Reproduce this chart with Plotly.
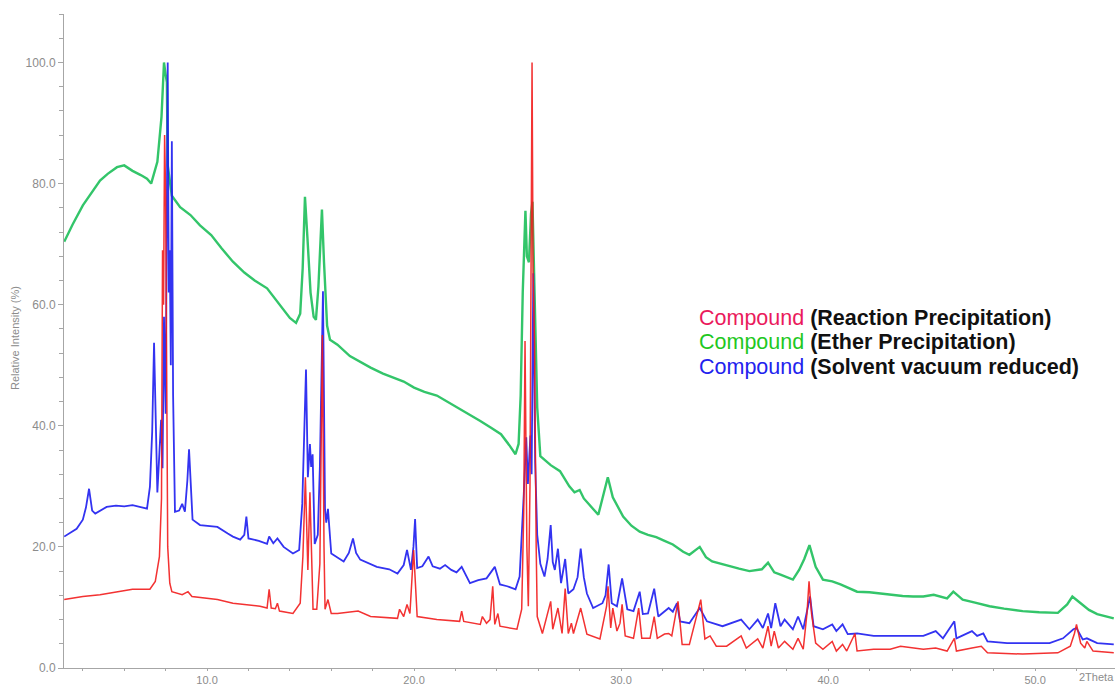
import plotly.graph_objects as go

# (2theta, relative intensity %)
green_pts = [
    (3.1,70.4),(3.5,73.2),(4.0,76.4),(4.5,78.8),(4.83,80.5),(5.2,81.6),(5.65,82.7),(6.0,83),(6.4,82.1),
    (6.8,81.4),(7.1,80.8),(7.3,80),(7.6,83.6),(7.8,91),(7.92,100),(8.0,98),(8.06,96.7),(8.1,83),(8.3,78),
    (8.7,76.1),(9.2,74.8),(9.66,73.1),(10.2,71.5),(10.7,69.3),(11.25,67.1),(11.8,65.3),(12.3,64),(12.9,62.7),
    (13.4,60.5),(14.0,57.8),(14.3,57),(14.5,58.5),(14.62,66),(14.73,77.8),(14.85,71),(15.0,62),(15.15,58),
    (15.26,57.5),(15.38,63),(15.48,72),(15.55,75.7),(15.65,67),(15.8,56.5),(15.94,54.2),(16.3,53.4),
    (16.9,51.5),(17.4,50.5),(17.9,49.6),(18.5,48.6),(19.0,48),(19.5,47.3),(20.0,46.3),(20.5,45.6),(21.1,45),
    (21.7,43.8),(22.2,42.9),(22.7,41.9),(23.2,40.8),(23.7,39.7),(24.2,38.6),(24.6,36.8),(24.9,35.3),
    (25.05,37),(25.15,45),(25.25,62),(25.38,75.5),(25.45,68),(25.55,67),(25.65,75),(25.72,77),(25.82,62),
    (25.95,43),(26.1,35),(26.6,33.5),(27.05,32.5),(27.5,30),(27.75,29),(28.0,29.4),(28.2,28),(28.5,26.9),
    (28.9,25.3),(29.1,28),(29.36,31.5),(29.6,28.2),(30.1,25),(30.5,23.5),(30.9,22.5),(31.3,22),(31.7,21.6),
    (32.1,21),(32.5,20.4),(33.0,19.2),(33.3,18.7),(33.8,20),(34.1,18.3),(34.4,17.6),(35.0,17),(35.7,16.4),
    (36.2,16),(36.5,16.1),(36.8,16.3),(37.1,17.4),(37.4,15.8),(37.7,15.4),(38.3,14.6),(38.6,16.2),
    (38.85,18),(39.1,20.3),(39.4,16.7),(39.75,14.6),(40.2,14.3),(40.6,13.8),(41.0,13.2),(41.4,12.6),
    (42.0,12.5),(42.5,12.3),(43.0,12.1),(43.6,11.9),(44.1,11.8),(44.6,11.8),(45.1,12.1),(45.75,11.5),
    (46.05,12.6),(46.5,11.3),(47.1,10.8),(47.8,10.2),(48.5,9.8),(49.4,9.4),(50.2,9.2),(51.1,9.1),
    (51.55,10.5),(51.8,11.8),(52.2,10.7),(52.6,9.6),(53.0,8.9),(53.4,8.5),(53.8,8.2),
]

blue_pts = [
    (3.1,21.7),(3.4,22.4),(3.7,23),(4.0,24.5),(4.15,26.5),(4.3,29.6),(4.45,26),(4.6,25.5),(5.15,26.6),
    (5.6,26.8),(6.0,26.7),(6.4,26.9),(6.8,26.5),(7.1,26.3),(7.24,29.9),(7.35,39),(7.44,53.7),(7.52,39),
    (7.6,29),(7.7,35.6),(7.78,41),(7.85,33),(7.92,58),(8.0,42),(8.1,100),(8.15,62),(8.2,69),(8.25,50),
    (8.3,87),(8.36,45),(8.45,25.8),(8.65,26),(8.8,27.1),(8.93,25.8),(9.05,31),(9.13,36.1),(9.22,29),
    (9.3,24.5),(9.66,23.6),(10.0,23.5),(10.5,23.3),(11.0,22.2),(11.25,21.7),(11.6,21.2),(11.8,22),
    (11.9,25),(12.0,21.4),(12.5,21),(12.9,20.5),(13.0,21.7),(13.2,20.6),(13.4,21.4),(13.7,20),(14.15,18.9),
    (14.45,19.5),(14.6,27.1),(14.7,38.9),(14.78,49.3),(14.87,31.5),(14.97,37),(15.03,33.2),(15.1,35.3),
    (15.2,20.5),(15.35,22),(15.45,33.2),(15.6,62.2),(15.7,26.1),(15.76,24),(15.84,26.3),(16.0,18.9),
    (16.6,17.6),(16.85,19),(17.05,21.4),(17.2,19),(17.4,17.9),(18.2,16.7),(18.8,16.3),(19.2,15.6),
    (19.5,17),(19.66,19.5),(19.85,16.2),(19.97,20),(20.05,24.6),(20.15,16.5),(20.4,16.8),(20.7,18.4),
    (20.9,16.8),(21.25,16.4),(21.5,17),(21.8,16.2),(22.05,15.8),(22.3,16.7),(22.7,14),(23.1,14.5),
    (23.5,14.8),(23.9,16.7),(24.15,13.8),(24.5,13.5),(24.9,13),(25.1,15.1),(25.3,28.7),(25.42,38.1),
    (25.5,30.4),(25.62,38.4),(25.68,32),(25.76,65.2),(25.85,34),(25.95,22),(26.1,17.2),(26.3,15.1),
    (26.45,18),(26.6,23.6),(26.7,17.5),(26.8,16.2),(26.95,19.7),(27.1,14),(27.3,18),(27.45,12.3),
    (27.7,13),(27.9,15),(28.05,19.7),(28.2,15),(28.35,12.3),(28.65,9.9),(29.1,10.7),(29.25,12),(29.4,17.1),
    (29.55,10.7),(29.8,10.2),(30.05,14.8),(30.3,9.7),(30.6,9.4),(30.9,12.6),(31.05,8.9),(31.3,9),
    (31.6,13.1),(31.8,8.5),(32.3,9.9),(32.5,9.3),(32.7,10.7),(32.85,7.7),(33.3,7.4),(33.8,9.9),(34.15,7.7),
    (34.9,6.9),(35.8,8),(36.2,6.4),(36.6,8),(36.85,6.6),(37.1,9),(37.25,6.6),(37.45,10.7),(37.7,6.9),
    (37.9,8),(38.3,6.4),(38.55,8.5),(38.8,6.4),(39.05,10.2),(39.13,11.8),(39.3,6.9),(39.75,6.4),(40.2,7.2),
    (40.4,6.1),(40.7,7.2),(40.95,5.6),(41.4,5.7),(42.2,5.3),(43.0,5.3),(43.8,5.3),(44.6,5.3),(45.2,6.1),
    (45.55,4.9),(46.1,7.7),(46.2,4.9),(46.95,6.1),(47.2,5.3),(47.5,5.7),(47.7,4.4),(48.65,4.1),(49.4,4.1),
    (50.7,4.1),(51.35,4.9),(51.85,6.4),(52.0,6.6),(52.3,4.7),(52.5,4.9),(53.0,4.1),(53.8,3.9),
]

red_pts = [
    (3.1,11.3),(4.0,11.8),(4.83,12.1),(5.6,12.6),(6.4,13),(7.0,13),(7.24,13),(7.5,14.3),(7.7,18.4),
    (7.8,28),(7.85,69),(7.9,60),(7.95,88),(8.0,78),(8.05,55),(8.1,20),(8.2,14),(8.3,12.6),(8.8,12.1),
    (9.08,12.6),(9.27,11.8),(10.5,11.3),(11.25,10.7),(12.56,10.2),(12.9,9.9),(13.0,13),(13.1,9.9),
    (13.3,9.8),(13.4,10.7),(13.5,9.4),(14.15,9),(14.5,10.7),(14.63,18.4),(14.75,31.5),(14.87,16.2),
    (14.97,29),(15.12,9.7),(15.3,9.7),(15.45,17.2),(15.5,29.9),(15.57,55),(15.65,20),(15.7,9.7),
    (15.84,11.3),(16.0,9),(16.3,9),(17.3,9.4),(17.9,8.5),(19.2,8.2),(19.3,9.7),(19.5,8.5),(19.66,10.5),
    (19.8,9),(19.98,19.5),(20.15,8.5),(21.1,8),(22.2,7.7),(22.3,9.4),(22.4,7.7),(23.2,7.2),(23.3,8.5),
    (23.5,7.4),(23.67,8),(23.8,13.5),(23.9,7.2),(24.05,9),(24.15,6.9),(24.97,6.4),(25.2,9.7),(25.3,26),
    (25.36,54),(25.45,20),(25.52,10.2),(25.6,30),(25.66,90),(25.7,100),(25.75,65),(25.82,53.6),(25.9,20),
    (25.95,8.5),(26.2,5.7),(26.4,8.5),(26.6,11),(26.7,6.4),(26.95,9.9),(27.15,5.7),(27.3,13.1),(27.45,5.7),
    (27.6,7.4),(27.7,5.7),(28.05,9.9),(28.35,5.6),(28.98,4.8),(29.3,10.2),(29.37,13.5),(29.5,6.6),
    (29.6,9.9),(29.8,6.1),(29.95,7.4),(30.05,10.5),(30.2,5.3),(30.6,4.9),(30.85,9.9),(31.0,4.9),(31.4,4.9),
    (31.6,8.5),(31.75,4.9),(32.1,5.6),(32.3,5.7),(32.45,5.3),(32.75,11),(32.95,3.9),(33.3,3.9),(33.85,11.3),
    (34.05,4.8),(34.3,5.3),(34.6,3.6),(35.1,3.6),(35.8,5.3),(36.05,3.3),(36.6,4.8),(36.85,3.3),(37.1,6.9),
    (37.25,3.6),(37.4,6.1),(37.6,3.3),(37.9,4.4),(38.3,3.1),(38.55,4.9),(38.8,3.1),(38.98,9),(39.08,14.3),
    (39.2,9),(39.4,4.1),(39.75,3.1),(40.2,4.4),(40.4,2.8),(40.7,3.9),(40.9,2.8),(41.3,5.7),(41.4,2.8),
    (42.2,3.1),(43.0,3.1),(43.5,3.6),(44.6,3.1),(45.2,3.3),(45.75,2.8),(46.1,4.9),(46.2,2.8),(46.95,3.3),
    (47.4,3.6),(47.7,2.5),(49.4,2.3),(51.1,2.5),(51.7,3.6),(51.9,5.7),(52.0,7.2),(52.2,4.1),(52.4,3.3),
    (52.5,4.4),(52.8,2.8),(53.8,2.5),
]

x_range = [3.09, 53.86]
y_range = [0, 108]

legend_labels = ["(Reaction Precipitation)", "(Ether Precipitation)", "(Solvent vacuum reduced)"]
legend_colors = ["#ea1a5c", "#1fc81f", "#2222ee"]

fig = go.Figure()
for pts, col, w in [(green_pts, "#1ebf5a", 2.4), (blue_pts, "#1d1df0", 1.8), (red_pts, "#f21c1c", 1.5)]:
    fig.add_trace(go.Scatter(x=[p[0] for p in pts], y=[p[1] for p in pts], mode="lines",
                             line=dict(color=col, width=w), opacity=0.9, showlegend=False,
                             hoverinfo="skip"))

axis_col = "#a6a6a6"
fig.update_layout(
    width=1115, height=688,
    margin=dict(l=64, r=0, t=14, b=20, autoexpand=False),
    paper_bgcolor="white", plot_bgcolor="white",
    font=dict(family="Arial, Liberation Sans, sans-serif"),
    xaxis=dict(range=x_range, showgrid=False, zeroline=False, showline=True, linecolor=axis_col,
               ticks="outside", ticklen=2, tickcolor=axis_col, tick0=0, dtick=10, tickformat=".1f",
               tickfont=dict(size=11, color="#8c8c8c"), automargin=False, ticklabelstandoff=0,
               minor=dict(ticks="outside", ticklen=2, dtick=2, tickcolor=axis_col)),
    yaxis=dict(range=y_range, showgrid=False, zeroline=False, showline=True, linecolor=axis_col,
               ticks="outside", ticklen=5, tickcolor=axis_col, tick0=0, dtick=20, tickformat=".1f",
               tickfont=dict(size=12, color="#8c8c8c"), automargin=False,
               minor=dict(ticks="outside", ticklen=4, dtick=4, tickcolor=axis_col)),
)

fig.add_annotation(text="Relative Intensity (%)", xref="paper", yref="paper", x=-0.0466, y=0.5046,
                   textangle=-90, showarrow=False, font=dict(size=11, color="#8c8c8c"),
                   xanchor="center", yanchor="middle")
fig.add_annotation(text="2Theta", xref="x", yref="paper", x=52.95, y=0, yshift=-1,
                   showarrow=False, font=dict(size=11, color="#8c8c8c"), xanchor="center", yanchor="top")

leg_y = [0.535, 0.4985, 0.4605]
for lab, col, yy in zip(legend_labels, legend_colors, leg_y):
    fig.add_annotation(text=f"<span style='color:{col}'>Compound</span> <b>{lab}</b>",
                       xref="paper", yref="paper", x=0.6023, y=yy, xanchor="left", yanchor="middle",
                       showarrow=False, font=dict(size=21.5, color="#111111"))

fig.write_html("out.html", config={"displayModeBar": False},
               post_script="document.body.style.margin='0';document.body.style.overflow='hidden';")
